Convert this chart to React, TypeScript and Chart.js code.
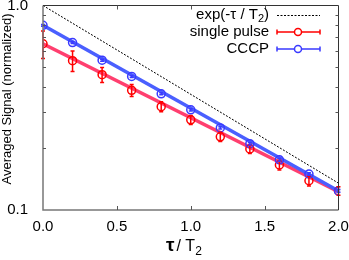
import React, { useEffect, useRef } from "react";
import { Chart, registerables } from "chart.js";

Chart.register(...registerables);

const tau = [0, 0.2, 0.4, 0.6, 0.8, 1.0, 1.2, 1.4, 1.6, 1.8, 2.0];
const singlePulse = [0.65, 0.537, 0.459, 0.385, 0.32, 0.276, 0.228, 0.199, 0.166, 0.139, 0.124];
const singlePulseErr = [0.1, 0.062, 0.039, 0.026, 0.018, 0.014, 0.012, 0.01, 0.009, 0.008, 0.006];
const cccp = [0.8, 0.659, 0.54, 0.45, 0.37, 0.309, 0.252, 0.211, 0.176, 0.15, 0.124];
const cccpErr = [0.008, 0.007, 0.006, 0.005, 0.004, 0.004, 0.003, 0.003, 0.003, 0.002, 0.002];
const expRef = [{ x: 0, y: 1.0 }, { x: 2, y: 0.1353 }];
const singleFit = [{ x: 0, y: 0.65 }, { x: 2, y: 0.123 }];
const cccpFit = [{ x: 0, y: 0.8 }, { x: 2, y: 0.124 }];
const yMinorTicks = [0.2, 0.3, 0.4, 0.5, 0.6, 0.7, 0.8, 0.9];
const xTicks = [0.5, 1.0, 1.5];
const legendLabels = ["exp(-τ / T", "single pulse", "CCCP"];
const yTitle = "Averaged Signal (normalized)";

const RED = "#ff0000";
const PINK = "#ff3f6f";
const BLUE = "#3a3aff";
const BLUE_LINE = "#4a5fff";
const FONT = "'Liberation Sans', Arial, sans-serif";

const custom = {
  id: "custom",
  afterDatasetsDraw(chart: any) {
    const { ctx, scales } = chart;
    const x = scales.x, y = scales.y;
    const drawErr = (vals: number[], errs: number[], color: string) => {
      ctx.save();
      ctx.strokeStyle = color;
      ctx.lineWidth = 1.5;
      vals.forEach((v, i) => {
        const px = x.getPixelForValue(tau[i]);
        const y1 = y.getPixelForValue(v + errs[i]);
        const y2 = y.getPixelForValue(v - errs[i]);
        ctx.beginPath();
        ctx.moveTo(px, y1); ctx.lineTo(px, y2);
        ctx.moveTo(px - 2, y1); ctx.lineTo(px + 2, y1);
        ctx.moveTo(px - 2, y2); ctx.lineTo(px + 2, y2);
        ctx.stroke();
      });
      ctx.restore();
    };
    drawErr(singlePulse, singlePulseErr, RED);
    drawErr(cccp, cccpErr, BLUE);
  },
  afterDraw(chart: any) {
    const { ctx, chartArea, scales } = chart;
    const { left, right, top, bottom } = chartArea;
    const x = scales.x, y = scales.y;
    ctx.save();
    // frame
    ctx.lineWidth = 1.5;
    ctx.strokeStyle = "#777";
    ctx.beginPath();
    ctx.moveTo(left, top); ctx.lineTo(left, bottom); ctx.lineTo(right, bottom);
    ctx.stroke();
    ctx.strokeStyle = "#333";
    ctx.lineWidth = 1;
    ctx.beginPath();
    ctx.moveTo(left, top); ctx.lineTo(right, top); ctx.lineTo(right, bottom);
    ctx.stroke();
    // ticks
    ctx.strokeStyle = "#555";
    ctx.lineWidth = 1;
    ctx.beginPath();
    yMinorTicks.forEach((v) => {
      const py = Math.round(y.getPixelForValue(v)) + 0.5;
      ctx.moveTo(left, py); ctx.lineTo(left + 3, py);
      ctx.moveTo(right, py); ctx.lineTo(right - 3, py);
    });
    xTicks.forEach((v) => {
      const px = Math.round(x.getPixelForValue(v)) + 0.5;
      ctx.moveTo(px, bottom); ctx.lineTo(px, bottom - 4);
      ctx.moveTo(px, top); ctx.lineTo(px, top + 4);
    });
    ctx.stroke();

    // legend
    ctx.fillStyle = "#000";
    ctx.textBaseline = "middle";
    ctx.textAlign = "right";
    ctx.font = `15px ${FONT}`;
    const tx = 269;
    const rows = [15, 32, 49];
    const parW = ctx.measureText(")").width;
    ctx.fillText(")", tx, rows[0]);
    ctx.font = `11px ${FONT}`;
    const subW = ctx.measureText("2").width;
    ctx.fillText("2", tx - parW, rows[0] + 4);
    ctx.font = `15px ${FONT}`;
    ctx.fillText(legendLabels[0], tx - parW - subW, rows[0]);
    ctx.fillText(legendLabels[1], tx, rows[1]);
    ctx.fillText(legendLabels[2], tx, rows[2]);
    const lx1 = 277, lx2 = 320, cx = 298;
    ctx.strokeStyle = "#000";
    ctx.setLineDash([2, 1.5]);
    ctx.lineWidth = 1;
    ctx.beginPath();
    ctx.moveTo(lx1, rows[0] + 0.5); ctx.lineTo(lx2, rows[0] + 0.5);
    ctx.stroke();
    ctx.setLineDash([]);
    [[rows[1], RED], [rows[2], BLUE]].forEach(([ry, col]: any) => {
      ctx.strokeStyle = col;
      ctx.lineWidth = 1.5;
      ctx.beginPath();
      ctx.moveTo(lx1, ry); ctx.lineTo(lx2, ry);
      ctx.moveTo(lx1, ry - 2.5); ctx.lineTo(lx1, ry + 2.5);
      ctx.moveTo(lx2, ry - 2.5); ctx.lineTo(lx2, ry + 2.5);
      ctx.stroke();
      ctx.beginPath();
      ctx.fillStyle = "#fff";
      ctx.arc(cx, ry, 3.5, 0, Math.PI * 2);
      ctx.fill();
      ctx.stroke();
    });

    // y title
    ctx.save();
    ctx.translate(7.5, 99);
    ctx.rotate(-Math.PI / 2);
    ctx.fillStyle = "#000";
    ctx.textAlign = "center";
    ctx.textBaseline = "middle";
    ctx.font = `13px ${FONT}`;
    ctx.fillText(yTitle, 0, 0);
    ctx.restore();

    // x title
    ctx.fillStyle = "#000";
    ctx.textAlign = "left";
    ctx.textBaseline = "alphabetic";
    const baseY = 251;
    let px = 166;
    ctx.font = `bold 19px ${FONT}`;
    ctx.fillText("τ", px, baseY);
    px += ctx.measureText("τ").width + 2;
    ctx.font = `16px ${FONT}`;
    ctx.fillText("/ T", px, baseY);
    px += ctx.measureText("/ T").width;
    ctx.font = `12px ${FONT}`;
    ctx.fillText("2", px, baseY + 4);
    ctx.restore();
  },
};

export default function App() {
  const ref = useRef<HTMLCanvasElement | null>(null);
  useEffect(() => {
    document.body.style.margin = "0";
    const chart = new Chart(ref.current!, {
      type: "line",
      data: {
        datasets: [
          {
            label: "single pulse",
            data: tau.map((t, i) => ({ x: t, y: singlePulse[i] })),
            showLine: false,
            pointRadius: 4,
            pointBorderWidth: 1.5,
            pointBorderColor: RED,
            pointBackgroundColor: "rgba(0,0,0,0)",
            order: 1,
          },
          {
            label: "CCCP",
            data: tau.map((t, i) => ({ x: t, y: cccp[i] })),
            showLine: false,
            pointRadius: 4,
            pointBorderWidth: 1.5,
            pointBorderColor: BLUE,
            pointBackgroundColor: "rgba(0,0,0,0)",
            order: 0,
          },
          {
            label: "single fit",
            data: singleFit,
            borderColor: PINK,
            borderWidth: 3.5,
            pointRadius: 0,
            order: 3,
          },
          {
            label: "cccp fit",
            data: cccpFit,
            borderColor: BLUE_LINE,
            borderWidth: 3.5,
            pointRadius: 0,
            order: 2,
          },
          {
            label: "exp",
            data: expRef,
            borderColor: "#000",
            borderWidth: 1,
            borderDash: [2, 1.5],
            pointRadius: 0,
            order: 4,
          },
        ],
      },
      options: {
        animation: false,
        responsive: false,
        maintainAspectRatio: false,
        layout: { padding: { left: 0, right: 10.5, top: 5, bottom: 0 } },
        plugins: { legend: { display: false }, tooltip: { enabled: false } },
        scales: {
          x: {
            type: "linear",
            min: 0,
            max: 2,
            grid: { display: false },
            border: { display: false },
            ticks: {
              stepSize: 0.5,
              color: "#000",
              padding: 0,
              font: { family: FONT, size: 15 },
              callback: (v: any) => Number(v).toFixed(1),
            },
            afterFit: (s: any) => {
              s.height = 50;
              s.paddingLeft = 0;
              s.paddingRight = 0;
            },
          },
          y: {
            type: "logarithmic",
            min: 0.1,
            max: 1,
            grid: { display: false },
            border: { display: false },
            ticks: {
              autoSkip: false,
              color: "#000",
              padding: 7,
              font: { family: FONT, size: 15 },
              callback: (v: any) => (Math.abs(v - 1) < 1e-9 ? "1.0" : Math.abs(v - 0.1) < 1e-9 ? "0.1" : ""),
            },
            afterFit: (s: any) => {
              s.width = 43;
              s.paddingTop = 0;
              s.paddingBottom = 0;
            },
          },
        },
      },
      plugins: [custom],
    });
    return () => chart.destroy();
  }, []);
  return (
    <div style={{ width: 349, height: 260 }}>
      <canvas ref={ref} width={349} height={260} style={{ display: "block" }} />
    </div>
  );
}
